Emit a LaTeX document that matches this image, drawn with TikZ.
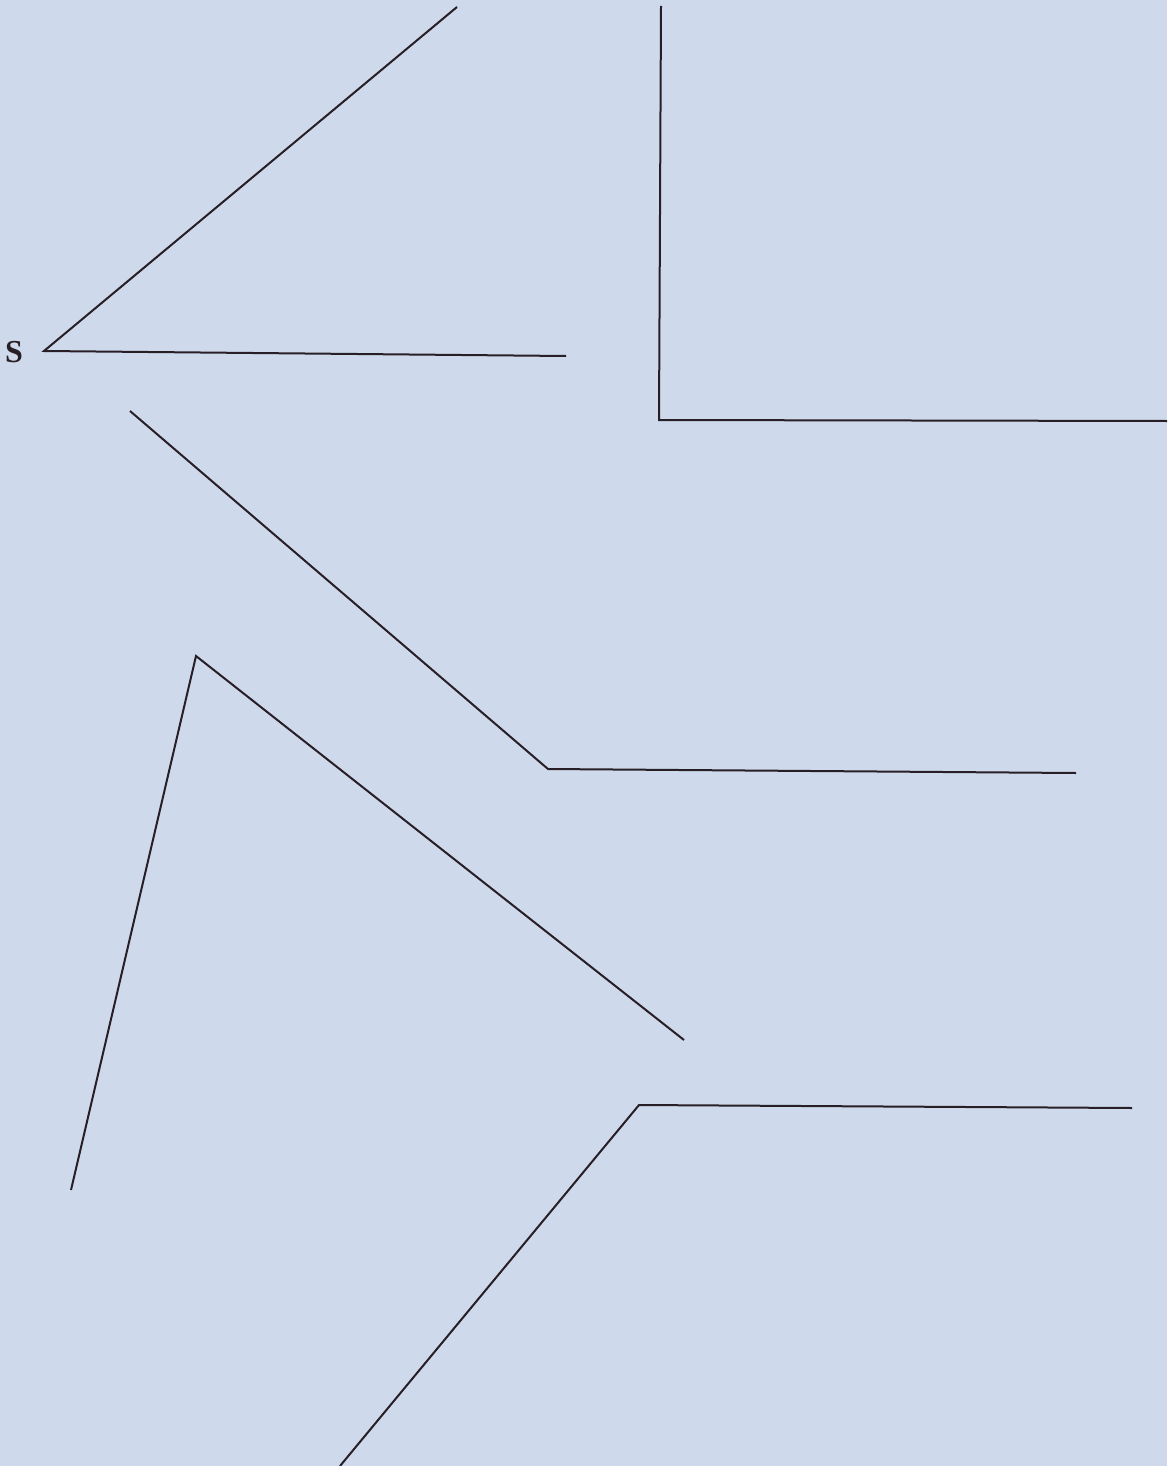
\documentclass[tikz,border=0pt]{standalone}
\usepackage{fontspec}
\setmainfont{Liberation Serif}
\definecolor{paper}{RGB}{206,218,236}
\definecolor{ink}{RGB}{40,30,38}
\tikzset{arm/.style={draw=ink, line width=2pt, line join=miter}}
\begin{document}
\begin{tikzpicture}[x=1pt,y=-1pt]
\fill[paper] (0,0) rectangle (1167,1466);
\useasboundingbox (0,0) rectangle (1167,1466);
% angle 1 (S)
\coordinate (v1) at (44,351);
\coordinate (a1) at (457,7);
\coordinate (b1) at (566,356);
\draw[arm] (a1) -- (v1) -- (b1);
\node[font=\fontsize{32}{32}\selectfont\bfseries, text=ink, anchor=east, inner sep=0pt] (s) at (23,352) {S};
% angle 2 (right angle)
\coordinate (v2) at (659,420);
\coordinate (a2) at (661,6);
\coordinate (b2) at (1167,421);
\draw[arm] (a2) -- (v2) -- (b2);
% angle 3
\coordinate (v3) at (548,769);
\coordinate (a3) at (130,411);
\coordinate (b3) at (1076,773);
\draw[arm] (a3) -- (v3) -- (b3);
% angle 4
\coordinate (v4) at (196,656);
\coordinate (a4) at (71,1190);
\coordinate (b4) at (684,1040);
\draw[arm] (a4) -- (v4) -- (b4);
% angle 5
\coordinate (v5) at (639,1105);
\coordinate (a5) at (340,1466);
\coordinate (b5) at (1132,1108);
\draw[arm] (a5) -- (v5) -- (b5);
\end{tikzpicture}
\end{document}
